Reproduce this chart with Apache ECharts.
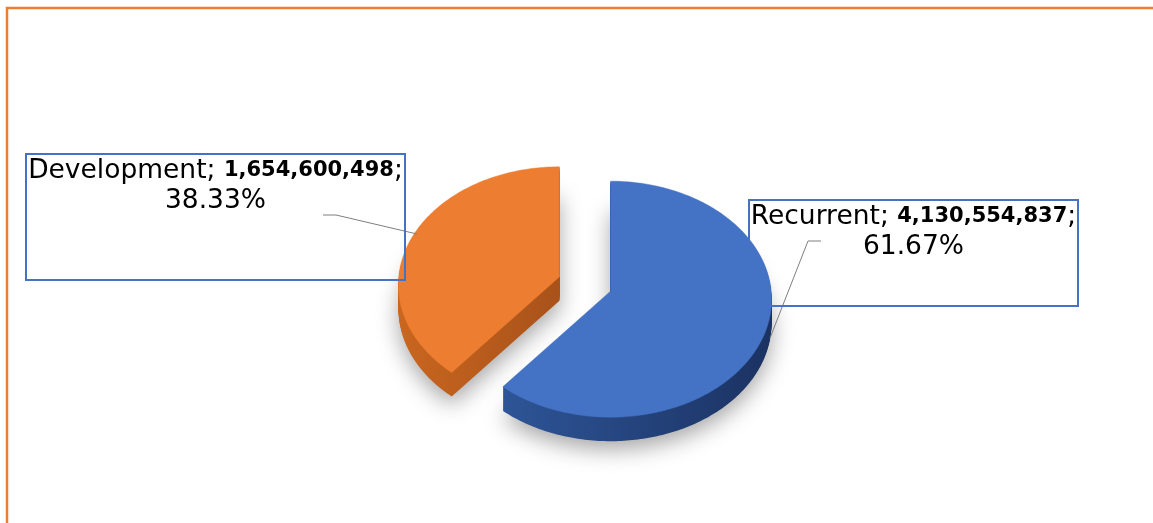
<!DOCTYPE html>
<html>
<head>
<meta charset="utf-8">
<script src="https://cdn.jsdelivr.net/npm/echarts/dist/echarts.min.js"></script>
<style>
  html, body { margin: 0; padding: 0; background: #ffffff; }
  #chart { width: 1153px; height: 523px; }
</style>
</head>
<body>
<div id="chart"></div>
<script>
// data (slices follow the printed percentages)
const categories = ['Recurrent', 'Development'];
const amounts = [4130554837, 1654600498];
const shares = [61.67, 38.33];

// styling / layout
const topColors = ['#4472C4', '#ED7D31'];
const sideColors = [['#2E5597', '#1B3262'], ['#C9661F', '#A8521A']];
const pie = { cx: 585, cy: 292, rx: 161, ry: 118, depth: 24, explode: 0.17, lift: 8 };
const labelBoxes = [
  { x: 749, y: 200, w: 329, h: 106 },
  { x: 26, y: 154, w: 379, h: 126 }
];
const leaderLines = [
  [[821, 241], [808, 241], [770, 338]],
  [[323, 215], [336, 215], [417, 234]]
];
const labelFont = "'DejaVu Sans', sans-serif";

const total = shares.reduce((a, b) => a + b, 0);
const starts = [];
shares.reduce((acc, s) => { starts.push(acc); return acc + s; }, 0);

function renderItem(params, api) {
  const i = params.dataIndex;
  const share = api.value(0);
  const start = api.value(1);
  const a0 = start / total * Math.PI * 2;
  const a1 = (start + share) / total * Math.PI * 2;
  const mid = (a0 + a1) / 2;
  const ox = pie.explode * pie.rx * Math.sin(mid);
  const oy = -pie.explode * pie.ry * Math.cos(mid);
  const cx = pie.cx + ox, cy = pie.cy + oy;

  const pts = [[cx, cy - pie.lift]];
  const n = Math.max(2, Math.ceil((a1 - a0) / (Math.PI / 180)));
  for (let k = 0; k <= n; k++) {
    const a = a0 + (a1 - a0) * k / n;
    pts.push([cx + pie.rx * Math.sin(a), cy - pie.ry * Math.cos(a)]);
  }

  const base = i === 0 ? 10 : 0;
  const children = [];
  // side walls: stack the slice downward in the darker colour
  for (let d = pie.depth; d >= 1; d--) {
    const style = {
      fill: new echarts.graphic.LinearGradient(0, 0, 1, 0, [
        { offset: 0, color: sideColors[i][0] },
        { offset: 1, color: sideColors[i][1] }
      ])
    };
    if (d === pie.depth) {
      style.shadowBlur = 22;
      style.shadowColor = 'rgba(0,0,0,0.35)';
      style.shadowOffsetY = 8;
    }
    children.push({
      type: 'polygon',
      z2: base,
      shape: { points: pts.map(p => [p[0], p[1] + d]) },
      style: style,
      silent: true
    });
  }
  // top face
  children.push({
    type: 'polygon',
    z2: base + 1,
    shape: { points: pts },
    style: { fill: topColors[i], stroke: topColors[i], lineWidth: 0.5 },
    silent: true
  });
  return { type: 'group', children: children };
}

const graphics = [{
  type: 'rect',
  silent: true,
  shape: { x: 7, y: 8, width: 1170, height: 540 },
  style: { fill: 'none', stroke: '#ED7D31', lineWidth: 2.5 }
}];

categories.forEach((c, i) => {
  const b = labelBoxes[i];
  graphics.push({
    type: 'polyline',
    z: 10,
    shape: { points: leaderLines[i] },
    style: { stroke: '#7F7F7F', lineWidth: 1, fill: null }
  });
  graphics.push({
    type: 'rect',
    z: 10,
    shape: { x: b.x, y: b.y, width: b.w, height: b.h },
    style: { fill: 'none', stroke: '#4472C4', lineWidth: 2 }
  });
  graphics.push({
    type: 'text',
    z: 11,
    x: b.x + b.w / 2,
    y: b.y + 2,
    style: {
      text: '{n|' + c + '; }{b|' + amounts[i].toLocaleString('en-US') + '}{n|;}\n{n|' + shares[i].toFixed(2) + '%}',
      align: 'center',
      verticalAlign: 'top',
      rich: {
        n: { fontSize: 26.5, fontFamily: labelFont, lineHeight: 30, fill: '#000000' },
        b: { fontSize: 21, fontFamily: labelFont, fontWeight: 'bold', lineHeight: 30, fill: '#000000' }
      }
    }
  });
});

const myChart = echarts.init(document.getElementById('chart'));
myChart.setOption({
  animation: false,
  backgroundColor: '#ffffff',
  graphic: graphics,
  series: [
    {
      type: 'custom',
      coordinateSystem: 'none',
      renderItem: renderItem,
      data: shares.map((s, i) => ({ name: categories[i], value: [s, starts[i]] }))
    }
  ]
});
</script>
</body>
</html>
